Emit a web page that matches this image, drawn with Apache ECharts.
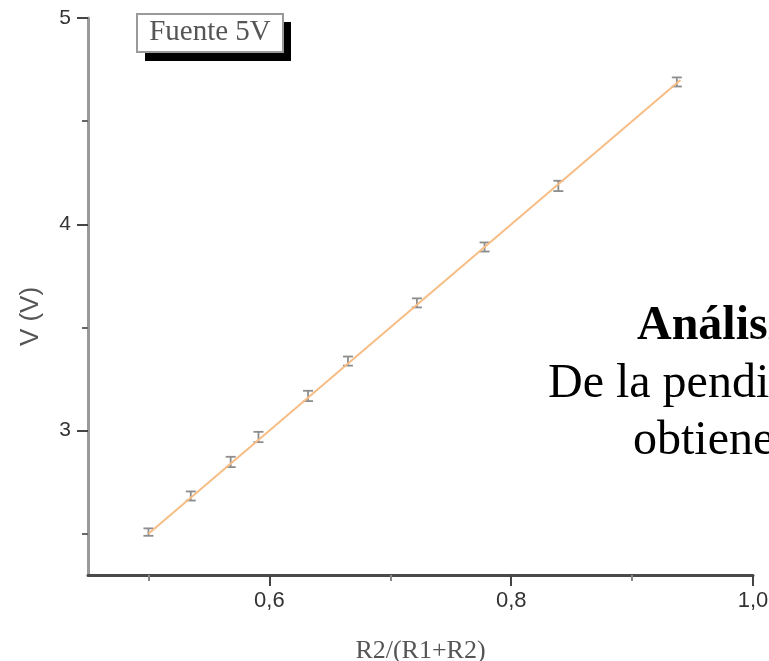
<!DOCTYPE html>
<html>
<head>
<meta charset="utf-8">
<script src="https://cdn.jsdelivr.net/npm/echarts@6.0.0/dist/echarts.min.js"></script>
<style>
  html, body { margin: 0; padding: 0; background: #fff; }
  #chart { width: 769px; height: 661px; }
</style>
</head>
<body>
<div id="chart"></div>
<script>
// valores
var ratio = [0.500, 0.535, 0.568, 0.591, 0.632, 0.665, 0.722, 0.778, 0.839, 0.937];
var volts = [2.508, 2.683, 2.848, 2.969, 3.168, 3.337, 3.619, 3.890, 4.186, 4.690];
var voltErr = [0.018, 0.022, 0.025, 0.025, 0.025, 0.022, 0.022, 0.022, 0.025, 0.022];
// recta de ajuste
var fitX = [0.50, 0.94];
var fitY = [2.50, 4.70];
// marcas de los ejes
var xMajor = [0.6, 0.8, 1.0];
var xMinor = [0.5, 0.7, 0.9];
var yMajor = [3, 4, 5];
var yMinor = [2.5, 3.5, 4.5];

var errData = ratio.map(function (x, i) { return [x, volts[i], voltErr[i]]; });
var fitData = fitX.map(function (x, i) { return [x, fitY[i]]; });

function renderErr(params, api) {
  var x = api.value(0), y = api.value(1), e = api.value(2);
  var lo = api.coord([x, y - e]);
  var hi = api.coord([x, y + e]);
  var w = 5;
  var st = { stroke: '#8d8d8d', lineWidth: 1.8 };
  return {
    type: 'group',
    children: [
      { type: 'line', shape: { x1: lo[0], y1: lo[1], x2: hi[0], y2: hi[1] }, style: st },
      { type: 'line', shape: { x1: lo[0] - w, y1: lo[1], x2: lo[0] + w, y2: lo[1] }, style: st },
      { type: 'line', shape: { x1: hi[0] - w, y1: hi[1], x2: hi[0] + w, y2: hi[1] }, style: st }
    ]
  };
}

var chart = echarts.init(document.getElementById('chart'));
chart.setOption({
  animation: false,
  backgroundColor: '#fff',
  grid: { left: 88, top: 18, right: 16, bottom: 86, containLabel: false, outerBoundsMode: 'none' },
  xAxis: [
    {
      type: 'value', min: 0.45, max: 1.0, position: 'bottom',
      name: 'R2/(R1+R2)', nameLocation: 'middle', nameGap: 63,
      nameTextStyle: { fontFamily: 'Liberation Serif', fontSize: 26, color: '#555' },
      axisLine: { lineStyle: { color: '#4a4a4a', width: 3 } },
      axisTick: { length: 11, customValues: xMajor, lineStyle: { color: '#444', width: 2 } },
      axisLabel: {
        customValues: xMajor, margin: 15,
        fontFamily: 'Liberation Sans', fontSize: 22, color: '#333',
        formatter: function (v) { return v.toFixed(1).replace('.', ','); }
      },
      splitLine: { show: false }
    },
    {
      type: 'value', min: 0.45, max: 1.0, position: 'bottom',
      axisLine: { show: false },
      axisTick: { length: 6, customValues: xMinor, lineStyle: { color: '#888', width: 2 } },
      axisLabel: { show: false },
      splitLine: { show: false }
    }
  ],
  yAxis: [
    {
      type: 'value', min: 2.3, max: 5, position: 'left',
      name: 'V (V)', nameLocation: 'middle', nameGap: 44,
      nameTextStyle: { fontFamily: 'Liberation Sans', fontSize: 26, color: '#555', padding: [0, 40, 0, 0] },
      axisLine: { lineStyle: { color: '#9a9a9a', width: 3 } },
      axisTick: { length: 11, customValues: yMajor, lineStyle: { color: '#444', width: 2 } },
      axisLabel: {
        customValues: yMajor, margin: 17,
        fontFamily: 'Liberation Sans', fontSize: 21, color: '#333'
      },
      splitLine: { show: false }
    },
    {
      type: 'value', min: 2.3, max: 5, position: 'left',
      axisLine: { show: false },
      axisTick: { length: 6, customValues: yMinor, lineStyle: { color: '#666', width: 2 } },
      axisLabel: { show: false },
      splitLine: { show: false }
    }
  ],
  series: [
    {
      type: 'custom', name: 'error', xAxisIndex: 0, yAxisIndex: 0,
      renderItem: renderErr, data: errData, z: 2
    },
    {
      type: 'line', name: 'ajuste', xAxisIndex: 0, yAxisIndex: 0,
      data: fitData, symbol: 'none', z: 3,
      lineStyle: { color: '#f7bd85', width: 2 }
    }
  ],
  graphic: [
    { type: 'rect', shape: { x: 145, y: 22, width: 146, height: 39 }, style: { fill: '#000' }, z: 10 },
    { type: 'rect', shape: { x: 137, y: 14, width: 146, height: 38 }, style: { fill: '#fff', stroke: '#9a9a9a', lineWidth: 2 }, z: 11 },
    {
      type: 'text', x: 210, y: 32, z: 12,
      style: { text: 'Fuente 5V', fontFamily: 'Liberation Serif', fontSize: 29, fill: '#555', align: 'center', verticalAlign: 'middle' }
    },
    {
      type: 'text', x: 637, y: 327, z: 12,
      style: { text: 'Análisis', fontFamily: 'Liberation Serif', fontWeight: 'bold', fontSize: 48, fill: '#000', verticalAlign: 'middle' }
    },
    {
      type: 'text', x: 548, y: 384, z: 12,
      style: { text: 'De la pendiente', fontFamily: 'Liberation Serif', fontSize: 48, fill: '#000', verticalAlign: 'middle' }
    },
    {
      type: 'text', x: 633, y: 441, z: 12,
      style: { text: 'obtiene', fontFamily: 'Liberation Serif', fontSize: 48, fill: '#000', verticalAlign: 'middle' }
    }
  ]
});
</script>
</body>
</html>
